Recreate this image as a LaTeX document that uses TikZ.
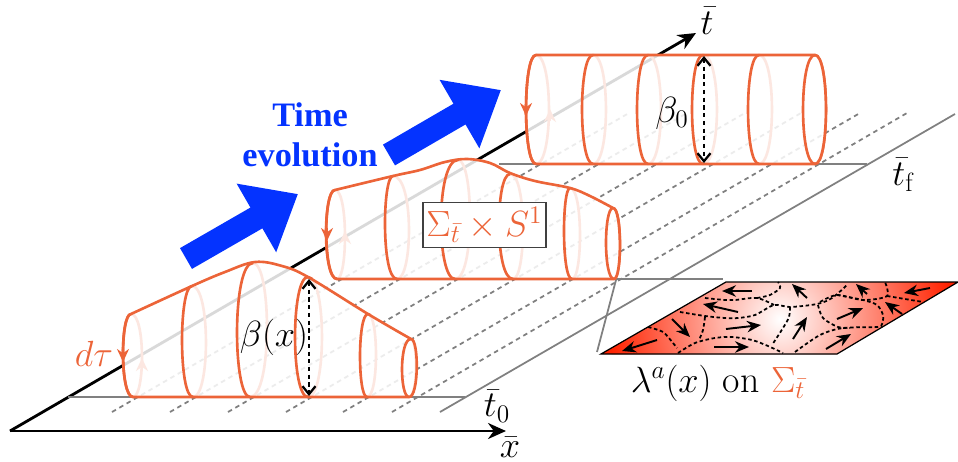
\documentclass[tikz,border=0pt]{standalone}
\usepackage{amsmath,amssymb}
\usepackage{fontspec}
\usepackage{tikz}
\usetikzlibrary{arrows.meta, calc}
\newfontfamily\timefont{Liberation Serif}
\definecolor{cylorange}{RGB}{236,100,56}
\definecolor{timeblue}{RGB}{4,51,255}
\definecolor{fieldred}{RGB}{255,34,0}
\newcommand{\ringarc}[5]{
	\draw[ringline] (#1,#2) .. controls ({#1+1.33*(#5-#1)},#2) and ({#3+1.33*(#5-#3)},#4) .. (#3,#4);
}
\tikzset{
	axisline/.style={line width=1.6pt, -{Stealth[length=3.6mm, width=3.2mm]}},
	gridline/.style={gray, line width=1pt},
	sliceline/.style={gray, line width=1pt, dash pattern=on 2.6pt off 2.2pt},
	ringline/.style={cylorange, line width=1.5pt},
	cylbody/.style={draw=cylorange, line width=1.5pt, fill=white, fill opacity=0.85},
	ringtip/.style={cylorange, line width=1.5pt, -{Stealth[length=2.6mm, width=2.4mm]}},
	betaarrow/.style={line width=1.3pt, dash pattern=on 2.4pt off 2pt, {Straight Barb[length=1.6mm, width=2.6mm]}-{Straight Barb[length=1.6mm, width=2.6mm]}},
	timearrow/.style={timeblue, line width=0.48cm, -{Triangle[length=0.96cm, width=1.52cm]}},
	wallline/.style={line width=1pt, dash pattern=on 2pt off 1.5pt},
	flowarrow/.style={line width=1.1pt, -{Stealth[length=2.8mm, width=2.3mm]}},
	biglabel/.style={font=\fontsize{21.5}{24}\selectfont},
}
\begin{document}
\begin{tikzpicture}[x=0.02cm, y=-0.02cm]
	\useasboundingbox (0,0) rectangle (958,461);
	\coordinate (origin) at (10,431);
	\coordinate (xend) at (506,431);
	\coordinate (tend) at (696,33);
	\draw[axisline] (origin) -- (xend);
	\draw[axisline] (origin) -- (tend);
	\node[biglabel] (xlabel) at (510,447) {$\bar{x}$};
	\node[biglabel] (tlabel) at (707,21) {$\bar{t}$};
	\coordinate (tzero) at (68,397);
	\coordinate (tzeroend) at (465,397);
	\coordinate (tfleft) at (499,164);
	\coordinate (tfend) at (867,164);
	\coordinate (midleft) at (337,279);
	\coordinate (midend) at (723,279);
	\coordinate (edgea) at (440,412);
	\coordinate (edgeb) at (955,114);
	\coordinate (linka) at (616,280);
	\coordinate (linkb) at (597,352);
	\draw[gridline] (tzero) -- (tzeroend);
	\draw[gridline] (tfleft) -- (tfend);
	\draw[gridline] (midleft) -- (midend);
	\draw[gridline] (edgea) -- (edgeb);
	\draw[gridline] (linka) -- (linkb);
	\foreach \xs/\xe/\ye in {112/629/113,170/687/113,228/745/113,286/801/113,343/860/113,392/907/113} {
		\draw[sliceline] (\xs,412) -- (\xe,\ye);
	}
	\node[biglabel] (tzerolabel) at (497,406) {$\bar{t}_0$};
	\node[biglabel] (tflabel) at (903,175) {$\bar{t}_{\mathrm{f}}$};

	\def\ringsc{536/55/536/164/526/549,593/55/593/164/582/606,648/55/648/164/637/661,703/55/703/164/692/717,759/55/759/164/748/772,815/55/815/164/803/826}
	\foreach \xt/\yt/\xb/\yb/\xl/\xr in \ringsc {
		\ringarc{\xt}{\yt}{\xb}{\yb}{\xr}
	}
	\draw[ringtip] (550,121) -- (550,109);
	\filldraw[cylbody] (536,55) .. controls (522.7,55) and (522.7,164) .. (536,164) -- (815,164)
		.. controls (829.6,164) and (829.6,55) .. (815,55) -- cycle;
	\foreach \xt/\yt/\xb/\yb/\xl/\xr in \ringsc {
		\ringarc{\xt}{\yt}{\xb}{\yb}{\xl}
	}
	\draw[ringtip] (526,103) -- (526,116);
	\coordinate (betatop) at (704,56);
	\coordinate (betabot) at (704,163);
	\draw[betaarrow] (betatop) -- (betabot);
	\node[biglabel] (betazero) at (672,113) {$\beta_0$};

	\coordinate (arrowa) at (186,258.5);
	\coordinate (arrowatip) at (298,194);
	\coordinate (arrowb) at (389,155);
	\coordinate (arrowbtip) at (501,90);
	\draw[timearrow] (arrowa) -- (arrowatip);
	\draw[timearrow] (arrowb) -- (arrowbtip);
	\node[text=timeblue, align=center, font=\fontsize{19.5}{22.8}\selectfont\timefont\bfseries] (timelabel) at (310,135) {Time\\evolution};

	\def\ringsb{335/190/337/279/326/345,393/176/397/279/385/409,458/160/455/279/441/470,510/174/513/279/499/523,570/188/572/279/564/580,613/208/614/279/606/620}
	\foreach \xt/\yt/\xb/\yb/\xl/\xr in \ringsb {
		\ringarc{\xt}{\yt}{\xb}{\yb}{\xr}
	}
	\draw[ringtip] (345,244) -- (345,231);
	\filldraw[cylbody] (335,190) .. controls (323,190) and (323,279) .. (337,279) -- (614,279)
		.. controls (622,279) and (622,208) .. (613,208)
		-- plot[smooth, tension=0.6] coordinates {(613,208) (590,196) (570,188) (535,181) (510,173) (490,163) (467,159) (445,162) (420,170) (393,176) (335,190)} -- cycle;
	\foreach \xt/\yt/\xb/\yb/\xl/\xr in \ringsb {
		\ringarc{\xt}{\yt}{\xb}{\yb}{\xl}
	}
	\draw[ringtip] (327,228) -- (327,241);
	\node[font=\fontsize{20}{24}\selectfont, draw=black!75, line width=0.6pt, fill=white, text=cylorange, minimum width=70pt, minimum height=26pt, inner sep=0pt] (sigmabox) at (484.5,225) {$\Sigma_{\bar{t}}\times S^1$};

	\def\ringsa{131/314/133/397/123/142,192/286/193/397/182/206,253/263/250/397/237/267,308/277/308/397/295/322,368/314/367/397/360/376,411/339/409/397/402/416}
	\foreach \xt/\yt/\xb/\yb/\xl/\xr in \ringsa {
		\ringarc{\xt}{\yt}{\xb}{\yb}{\xr}
	}
	\draw[ringtip] (142,370) -- (142,358);
	\filldraw[cylbody] (131,314) .. controls (120,314) and (120,397) .. (133,397) -- (409,397)
		.. controls (419,397) and (419,339) .. (411,339)
		-- plot[smooth, tension=0.6] coordinates {(411,339) (368,314) (308,277) (282,266) (255,262) (225,272) (192,286) (131,314)} -- cycle;
	\foreach \xt/\yt/\xb/\yb/\xl/\xr in \ringsa {
		\ringarc{\xt}{\yt}{\xb}{\yb}{\xl}
	}
	\draw[ringtip] (123,349) -- (123,362);
	\coordinate (betaxtop) at (309,279);
	\coordinate (betaxbot) at (309,396);
	\draw[betaarrow] (betaxtop) -- (betaxbot);
	\node[biglabel] (betax) at (274,337) {$\beta(x)$};
	\node[biglabel, text=cylorange] (dtau) at (94,354) {$d\tau$};

	\begin{scope}
		\clip (601,354) -- (726,282) -- (958,282) -- (837,354) -- cycle;
		\fill[fieldred] (590,270) rectangle (958,360);
		\shade[inner color=white, outer color=fieldred] (780,319) circle (172);
	\end{scope}
	\draw[line width=0.7pt] (601,354) -- (726,282) -- (958,282) -- (837,354) -- cycle;
	\draw[wallline] plot[smooth] coordinates {(648,327) (663,332) (673,343) (677,348)};
	\draw[wallline] plot[smooth] coordinates {(678,353) (695,343) (715,338) (732,337) (752,340) (768,346) (783,353)};
	\draw[wallline] plot[smooth] coordinates {(680,312) (705,316) (725,318) (738,318) (755,315) (774,305) (790,307) (817,304) (832,298) (847,285)};
	\draw[wallline] plot[smooth] coordinates {(705,298) (725,300) (735,300) (757,298) (774,305)};
	\draw[wallline] plot[smooth] coordinates {(705,317) (703,330) (699,340)};
	\draw[wallline] plot[smooth] coordinates {(757,298) (770,295) (780,288) (778,282)};
	\draw[wallline] plot[smooth] coordinates {(790,307) (789,317) (783,328) (772,345)};
	\draw[wallline] plot[smooth] coordinates {(818,305) (823,318) (838,327) (850,328)};
	\draw[wallline] plot[smooth] coordinates {(837,295) (863,300) (877,305) (883,315) (882,324) (877,327) (843,328) (820,335) (795,352)};
	\draw[wallline] plot[smooth] coordinates {(820,302) (837,295) (863,300) (887,296) (885,282)};
	\draw[wallline] plot[smooth] coordinates {(887,296) (905,299) (923,302)};
	\foreach \xa/\ya/\xb/\yb in {657/340/622/351,714/347/749/347,672/319/690/337,726/329/761/325,738/312/703/304,752/291/722/291,807/298/792/284,793/339/807/317,826/349/851/334,837/319/863/308,867/294/856/284,902/314/885/302,930/288/904/293} {
		\draw[flowarrow] (\xa,\ya) -- (\xb,\yb);
	}
	\node[biglabel, anchor=base] (fieldlabel) at (718,392) {$\lambda^a(x)$\ on {\color{cylorange}$\Sigma_{\bar{t}}$}};
\end{tikzpicture}
\end{document}
